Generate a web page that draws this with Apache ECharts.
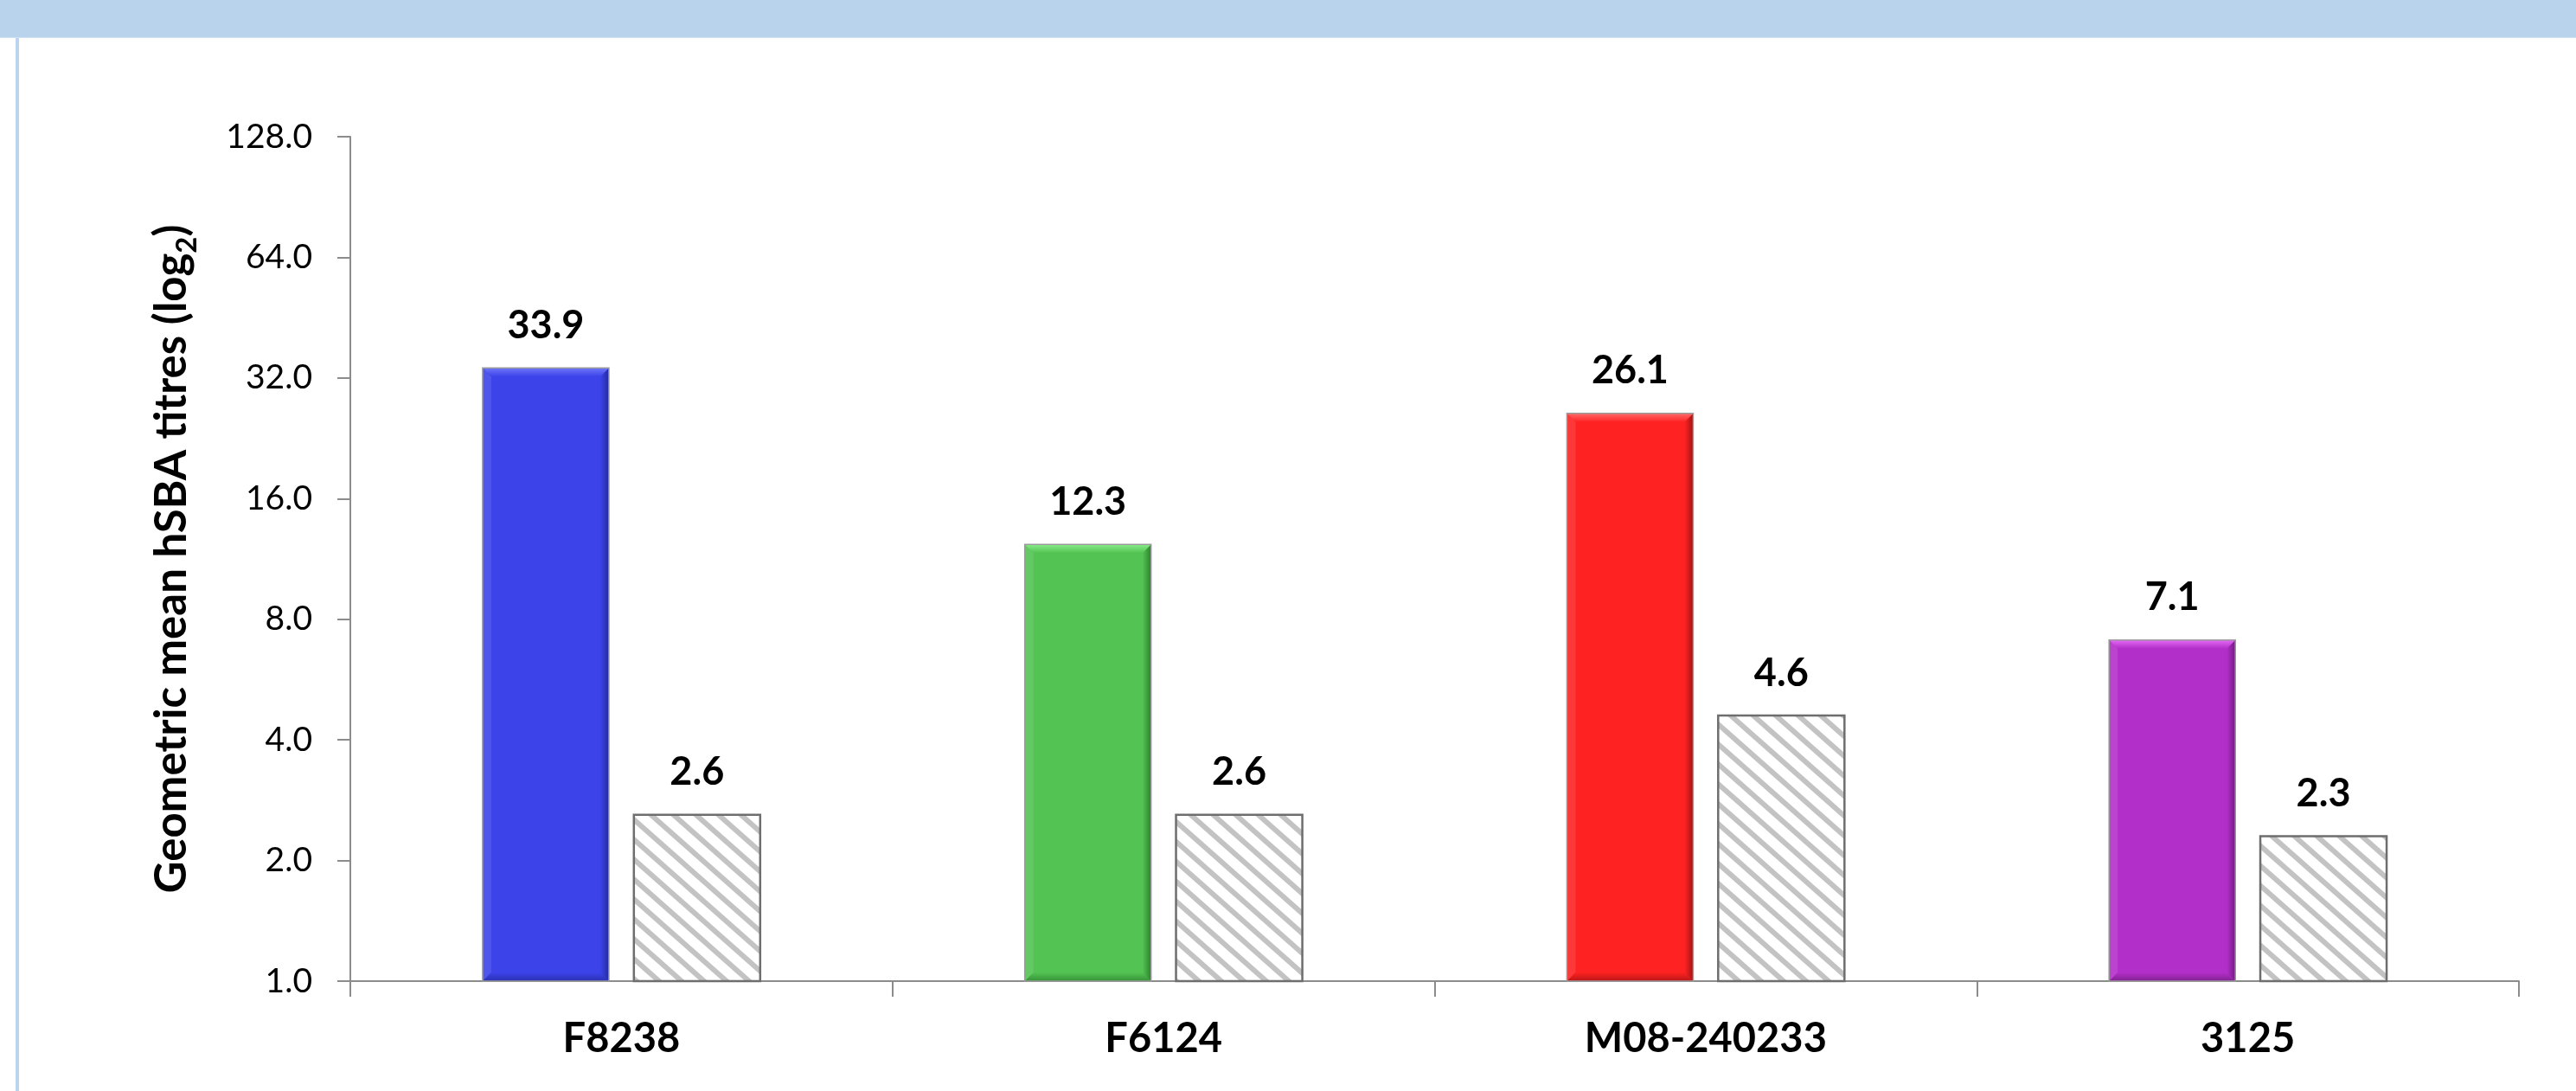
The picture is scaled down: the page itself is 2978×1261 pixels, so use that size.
<!DOCTYPE html>
<html>
<head>
<meta charset="utf-8">
<script src="https://cdn.jsdelivr.net/npm/echarts@6/dist/echarts.min.js"></script>
<style>
  html, body { margin: 0; padding: 0; background: #ffffff; }
  #chart { width: 2978px; height: 1261px; }
</style>
</head>
<body>
<div id="chart"></div>
<script>
// Strains tested and geometric mean hSBA titres per group
const strains = ['F8238', 'F6124', 'M08-240233', '3125'];
const vaccineTitres = [33.9, 12.3, 26.1, 7.1];
const controlTitres = [2.6, 2.6, 4.6, 2.3];
const yTickValues = [1, 2, 4, 8, 16, 32, 64, 128];

// Bevel shading per strain: face, highlight, shadow
const strainShades = [
  { face: '#3c43e9', light: '#7077f8', dark: '#252a9e' },
  { face: '#53c353', light: '#8aec8a', dark: '#2c822c' },
  { face: '#fe2222', light: '#ff6a6a', dark: '#a31212' },
  { face: '#b32fc9', light: '#e46af5', dark: '#711d80' }
];

// Bar placement inside each category band (fractions of band width)
const BAR_WIDTH = 0.233;
const FIRST_LEFT = 0.244;
const SECOND_LEFT = 0.523;

const FONT = 'Lato, "Open Sans", "Noto Sans", sans-serif';

function makeHatch() {
  const W = 26, H = 23;
  const c = document.createElement('canvas');
  c.width = W; c.height = H;
  const g = c.getContext('2d');
  g.fillStyle = '#ffffff';
  g.fillRect(0, 0, W, H);
  g.strokeStyle = '#c3c3c3';
  g.lineWidth = 6;
  for (let k = -2; k <= 2; k++) {
    g.beginPath();
    g.moveTo(k * W - W, -H);
    g.lineTo(k * W + 2 * W, 2 * H);
    g.stroke();
  }
  return c;
}
const hatchPattern = { image: makeHatch(), repeat: 'repeat' };

function barGeometry(api, leftFrac) {
  const cat = api.value(0);
  const val = api.value(1);
  const top = api.coord([cat, val]);
  const bottom = api.coord([cat, 1]);
  const band = api.size([1, 0])[0];
  const w = band * BAR_WIDTH;
  const x = top[0] - band / 2 + band * leftFrac;
  return { x: x, y: top[1], w: w, h: bottom[1] - top[1], val: val, cat: cat };
}

function valueLabel(g) {
  return {
    type: 'text',
    style: {
      text: g.val.toFixed(1),
      x: g.x + g.w / 2,
      y: g.y - 49,
      fill: '#000000',
      fontSize: 45,
      fontWeight: 'bold',
      fontFamily: FONT,
      align: 'center',
      verticalAlign: 'middle'
    }
  };
}

function renderVaccineBar(params, api) {
  const g = barGeometry(api, FIRST_LEFT);
  const s = strainShades[g.cat];
  const b = 10;
  const x = g.x, y = g.y, w = g.w, h = g.h;
  const lin = (x1, y1, x2, y2, c1, c2) => ({
    type: 'linear', x: x1, y: y1, x2: x2, y2: y2,
    colorStops: [{ offset: 0, color: c1 }, { offset: 1, color: c2 }]
  });
  return {
    type: 'group',
    children: [
      { type: 'rect', shape: { x: x, y: y, width: w, height: h }, style: { fill: s.face } },
      // left bevel
      { type: 'polygon', shape: { points: [[x, y], [x + b, y + b], [x + b, y + h - b], [x, y + h]] },
        style: { fill: 'rgba(255,255,255,0.10)' } },
      // right bevel
      { type: 'polygon', shape: { points: [[x + w, y], [x + w - b, y + b], [x + w - b, y + h - b], [x + w, y + h]] },
        style: { fill: lin(0, 0, 1, 0, s.face, s.dark) } },
      // bottom bevel
      { type: 'polygon', shape: { points: [[x, y + h], [x + b, y + h - b], [x + w - b, y + h - b], [x + w, y + h]] },
        style: { fill: lin(0, 0, 0, 1, s.face, s.dark), opacity: 0.75 } },
      // top bevel
      { type: 'polygon', shape: { points: [[x, y], [x + w, y], [x + w - b, y + b], [x + b, y + b]] },
        style: { fill: lin(0, 0, 0, 1, s.light, s.face) } },
      // outline
      { type: 'rect', shape: { x: x, y: y, width: w, height: h },
        style: { fill: 'none', stroke: '#9a9a9a', lineWidth: 1.5 } },
      valueLabel(g)
    ]
  };
}

function renderControlBar(params, api) {
  const g = barGeometry(api, SECOND_LEFT);
  return {
    type: 'group',
    children: [
      { type: 'rect', shape: { x: g.x, y: g.y, width: g.w, height: g.h },
        style: { fill: hatchPattern, stroke: '#6e6e6e', lineWidth: 2.5 } },
      valueLabel(g)
    ]
  };
}

const chart = echarts.init(document.getElementById('chart'), null, { renderer: 'canvas' });

const axisGrey = '#8c8c8c';

chart.setOption({
  backgroundColor: '#ffffff',
  animation: false,
  graphic: [
    { type: 'rect', left: 0, top: 0, shape: { width: 2978, height: 43 }, style: { fill: '#b9d3ec' }, z: 0 },
    { type: 'rect', left: 0, top: 43, shape: { width: 2978, height: 1 }, style: { fill: '#d2e2f3' }, z: 0 },
    { type: 'rect', left: 18, top: 44, shape: { width: 4, height: 1217 }, style: { fill: '#bcd4ee' }, z: 0 }
  ],
  grid: { left: 405, right: 66, top: 158, bottom: 127, containLabel: false },
  xAxis: {
    type: 'category',
    data: strains,
    boundaryGap: true,
    axisLine: { show: true, lineStyle: { color: axisGrey, width: 2 } },
    axisTick: { show: true, length: 18, alignWithLabel: false, lineStyle: { color: axisGrey, width: 2 } },
    axisLabel: {
      color: '#000000', fontSize: 47, fontWeight: 'bold', fontFamily: FONT, margin: 43
    },
    splitLine: { show: false }
  },
  yAxis: {
    type: 'log',
    logBase: 2,
    min: yTickValues[0],
    max: yTickValues[yTickValues.length - 1],
    splitNumber: yTickValues.length - 1,
    axisLine: { show: true, lineStyle: { color: axisGrey, width: 2 } },
    axisTick: { show: true, length: 15, lineStyle: { color: axisGrey, width: 2 } },
    axisLabel: {
      color: '#000000', fontSize: 39, fontFamily: FONT, margin: 44,
      formatter: function (v) { return Number(v).toFixed(1); }
    },
    splitLine: { show: false },
    name: '{t|Geometric mean hSBA titres (log}{s|2}{t|)}',
    nameLocation: 'middle',
    nameRotate: 90,
    nameGap: 172,
    nameTextStyle: {
      rich: {
        t: { fontSize: 51, fontWeight: 'bold', fontFamily: FONT, color: '#000000', lineHeight: 60, verticalAlign: 'top' },
        s: { fontSize: 33, fontWeight: 'bold', fontFamily: FONT, color: '#000000', lineHeight: 34, verticalAlign: 'bottom' }
      }
    }
  },
  series: [
    {
      name: 'Vaccine',
      type: 'custom',
      renderItem: renderVaccineBar,
      encode: { x: 0, y: 1 },
      data: vaccineTitres.map(function (v, i) { return [i, v]; }),
      clip: false,
      z: 3
    },
    {
      name: 'Control',
      type: 'custom',
      renderItem: renderControlBar,
      encode: { x: 0, y: 1 },
      data: controlTitres.map(function (v, i) { return [i, v]; }),
      clip: false,
      z: 3
    }
  ]
});
</script>
</body>
</html>
